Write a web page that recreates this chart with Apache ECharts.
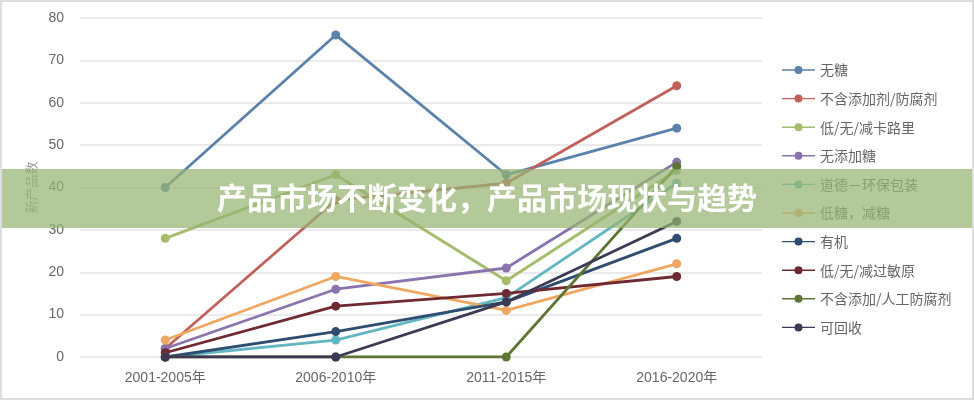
<!DOCTYPE html>
<html>
<head>
<meta charset="utf-8">
<script src="https://cdn.jsdelivr.net/npm/echarts@6/dist/echarts.min.js"></script>
<style>
html,body{margin:0;padding:0;background:#fff;}
#chart{width:974px;height:400px;}
</style>
</head>
<body>
<div id="chart"></div>
<script>
const categories = ['2001-2005年', '2006-2010年', '2011-2015年', '2016-2020年'];
const seriesNames = ['无糖', '不含添加剂/防腐剂', '低/无/减卡路里', '无添加糖', '道德－环保包装', '低糖，减糖', '有机', '低/无/减过敏原', '不含添加/人工防腐剂', '可回收'];
const wuTang = [40, 76, 43, 54];
const buHanTianJiaJi = [2, 37, 41, 64];
const diKaLuLi = [28, 43, 18, 44];
const wuTianJiaTang = [2, 16, 21, 46];
const huanBaoBaoZhuang = [0, 4, 14, 41];
const diTang = [4, 19, 11, 22];
const youJi = [0, 6, 13, 28];
const guoMinYuan = [1, 12, 15, 19];
const renGongFangFu = [0, 0, 0, 45];
const keHuiShou = [0, 0, 13, 32];
const yTicks = [0, 10, 20, 30, 40, 50, 60, 70, 80];
const yAxisName = '新产品数';
const bannerText = '产品市场不断变化，产品市场现状与趋势';

const allValues = [wuTang, buHanTianJiaJi, diKaLuLi, wuTianJiaTang, huanBaoBaoZhuang, diTang, youJi, guoMinYuan, renGongFangFu, keHuiShou];
const colors = ['#5a82ab', '#c0615b', '#a4bc6b', '#8a74ae', '#63b6c2', '#efa862', '#2f4d70', '#6e2a30', '#5f7535', '#3d3a55'];

const chart = echarts.init(document.getElementById('chart'), null, {renderer: 'canvas'});
const font = '"Liberation Sans", "Noto Sans CJK SC", sans-serif';
chart.setOption({
  animation: false,
  backgroundColor: '#fff',
  color: colors,
  grid: {left: 80, right: 212, top: 18, bottom: 43},
  legend: {
    orient: 'vertical',
    left: 777,
    top: 58,
    itemWidth: 33,
    itemHeight: 10,
    itemGap: 14.6,
    icon: 'path://M0,4.3 L33,4.3 L33,5.7 L0,5.7 Z M16.5,1 A4,4 0 1 1 16.49,1 Z',
    textStyle: {fontSize: 14, color: '#666', fontFamily: '"Noto Sans CJK SC", sans-serif'},
    data: seriesNames
  },
  xAxis: {
    type: 'category',
    data: categories,
    boundaryGap: true,
    axisLine: {show: false},
    axisTick: {show: false},
    axisLabel: {color: '#666', fontSize: 14, margin: 14, fontFamily: font}
  },
  yAxis: {
    type: 'value',
    min: yTicks[0],
    max: yTicks[yTicks.length - 1],
    interval: yTicks[1] - yTicks[0],
    name: yAxisName,
    nameLocation: 'middle',
    nameGap: 42,
    nameTextStyle: {color: '#999', fontSize: 13, fontFamily: '"Noto Sans CJK SC", sans-serif'},
    axisLine: {show: false},
    axisTick: {show: false},
    axisLabel: {color: '#666', fontSize: 14, margin: 16, fontFamily: font},
    splitLine: {lineStyle: {color: '#e3e3e3', width: 1.5}}
  },
  series: seriesNames.map((name, i) => ({
    name: name,
    type: 'line',
    data: allValues[i],
    symbol: 'circle',
    symbolSize: 9,
    lineStyle: {width: 2.8},
    itemStyle: {color: colors[i]},
    z: 2 + i
  })),
  graphic: [
    {
      type: 'rect',
      z: 100,
      shape: {x: 0, y: 169, width: 974, height: 59},
      style: {fill: 'rgba(150,180,115,0.72)'}
    },
    {
      type: 'text',
      z: 101,
      left: 'center',
      top: 183,
      style: {
        text: bannerText,
        fill: '#fff',
        font: 'bold 30px "Noto Sans CJK SC", sans-serif'
      }
    },
    {
      type: 'rect',
      z: 102,
      shape: {x: 1, y: 1, width: 972, height: 398},
      style: {fill: 'none', stroke: '#dedede', lineWidth: 2}
    }
  ]
});
</script>
</body>
</html>
